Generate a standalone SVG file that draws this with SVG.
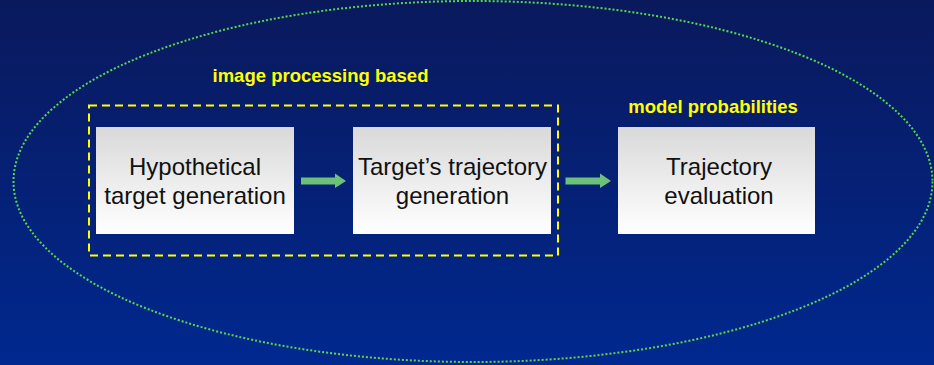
<svg xmlns="http://www.w3.org/2000/svg" width="934" height="365" viewBox="0 0 934 365">
<defs>
<linearGradient id="bg" x1="0" y1="0" x2="0" y2="1">
<stop offset="0" stop-color="#0a195c"/>
<stop offset="1" stop-color="#00288f"/>
</linearGradient>
<linearGradient id="boxg" x1="0" y1="0" x2="0" y2="1">
<stop offset="0" stop-color="#d9d9d9"/>
<stop offset="1" stop-color="#ffffff"/>
</linearGradient>
<style>
.box{fill:url(#boxg);}
.bt{font-family:"Liberation Sans",Arial,sans-serif;font-size:24px;fill:#111;text-anchor:middle;}
.lab{font-family:"Liberation Sans",Arial,sans-serif;font-size:18.5px;font-weight:bold;fill:#ffff00;text-anchor:middle;}
.arrow{fill:#6cc178;}
</style>
</defs>
<rect x="0" y="0" width="934" height="365" fill="url(#bg)"/>
<ellipse cx="473" cy="181.5" rx="459.5" ry="180.5" fill="none" stroke="#55d94a" stroke-width="2" stroke-dasharray="2 2"/>
<g id="group-image-processing">
<rect x="89" y="105.5" width="469" height="150" fill="none" stroke="#ffff00" stroke-width="2" stroke-dasharray="8 5"/>
<text class="lab" x="320.5" y="82">image processing based</text>
</g>
<text class="lab" x="713" y="113">model probabilities</text>
<g id="node-hypothetical">
<rect class="box" x="96" y="127" width="198" height="107"/>
<text class="bt" x="195" y="175">Hypothetical</text>
<text class="bt" x="195" y="203.5">target generation</text>
</g>
<g id="node-trajectory-generation">
<rect class="box" x="353" y="127" width="198" height="107"/>
<text class="bt" x="452.5" y="175">Target’s trajectory</text>
<text class="bt" x="452.5" y="203.5">generation</text>
</g>
<g id="node-trajectory-evaluation">
<rect class="box" x="618" y="127" width="197" height="107"/>
<text class="bt" x="719" y="175">Trajectory</text>
<text class="bt" x="719" y="203.5">evaluation</text>
</g>
<g id="connectors">
<polygon class="arrow" points="301,177.5 335,177.5 335,173.5 346,181 335,188 335,184.5 301,184.5"/>
<polygon class="arrow" points="565.5,177.5 600,177.5 600,173.5 611,181 600,188 600,184.5 565.5,184.5"/>
</g>
</svg>
